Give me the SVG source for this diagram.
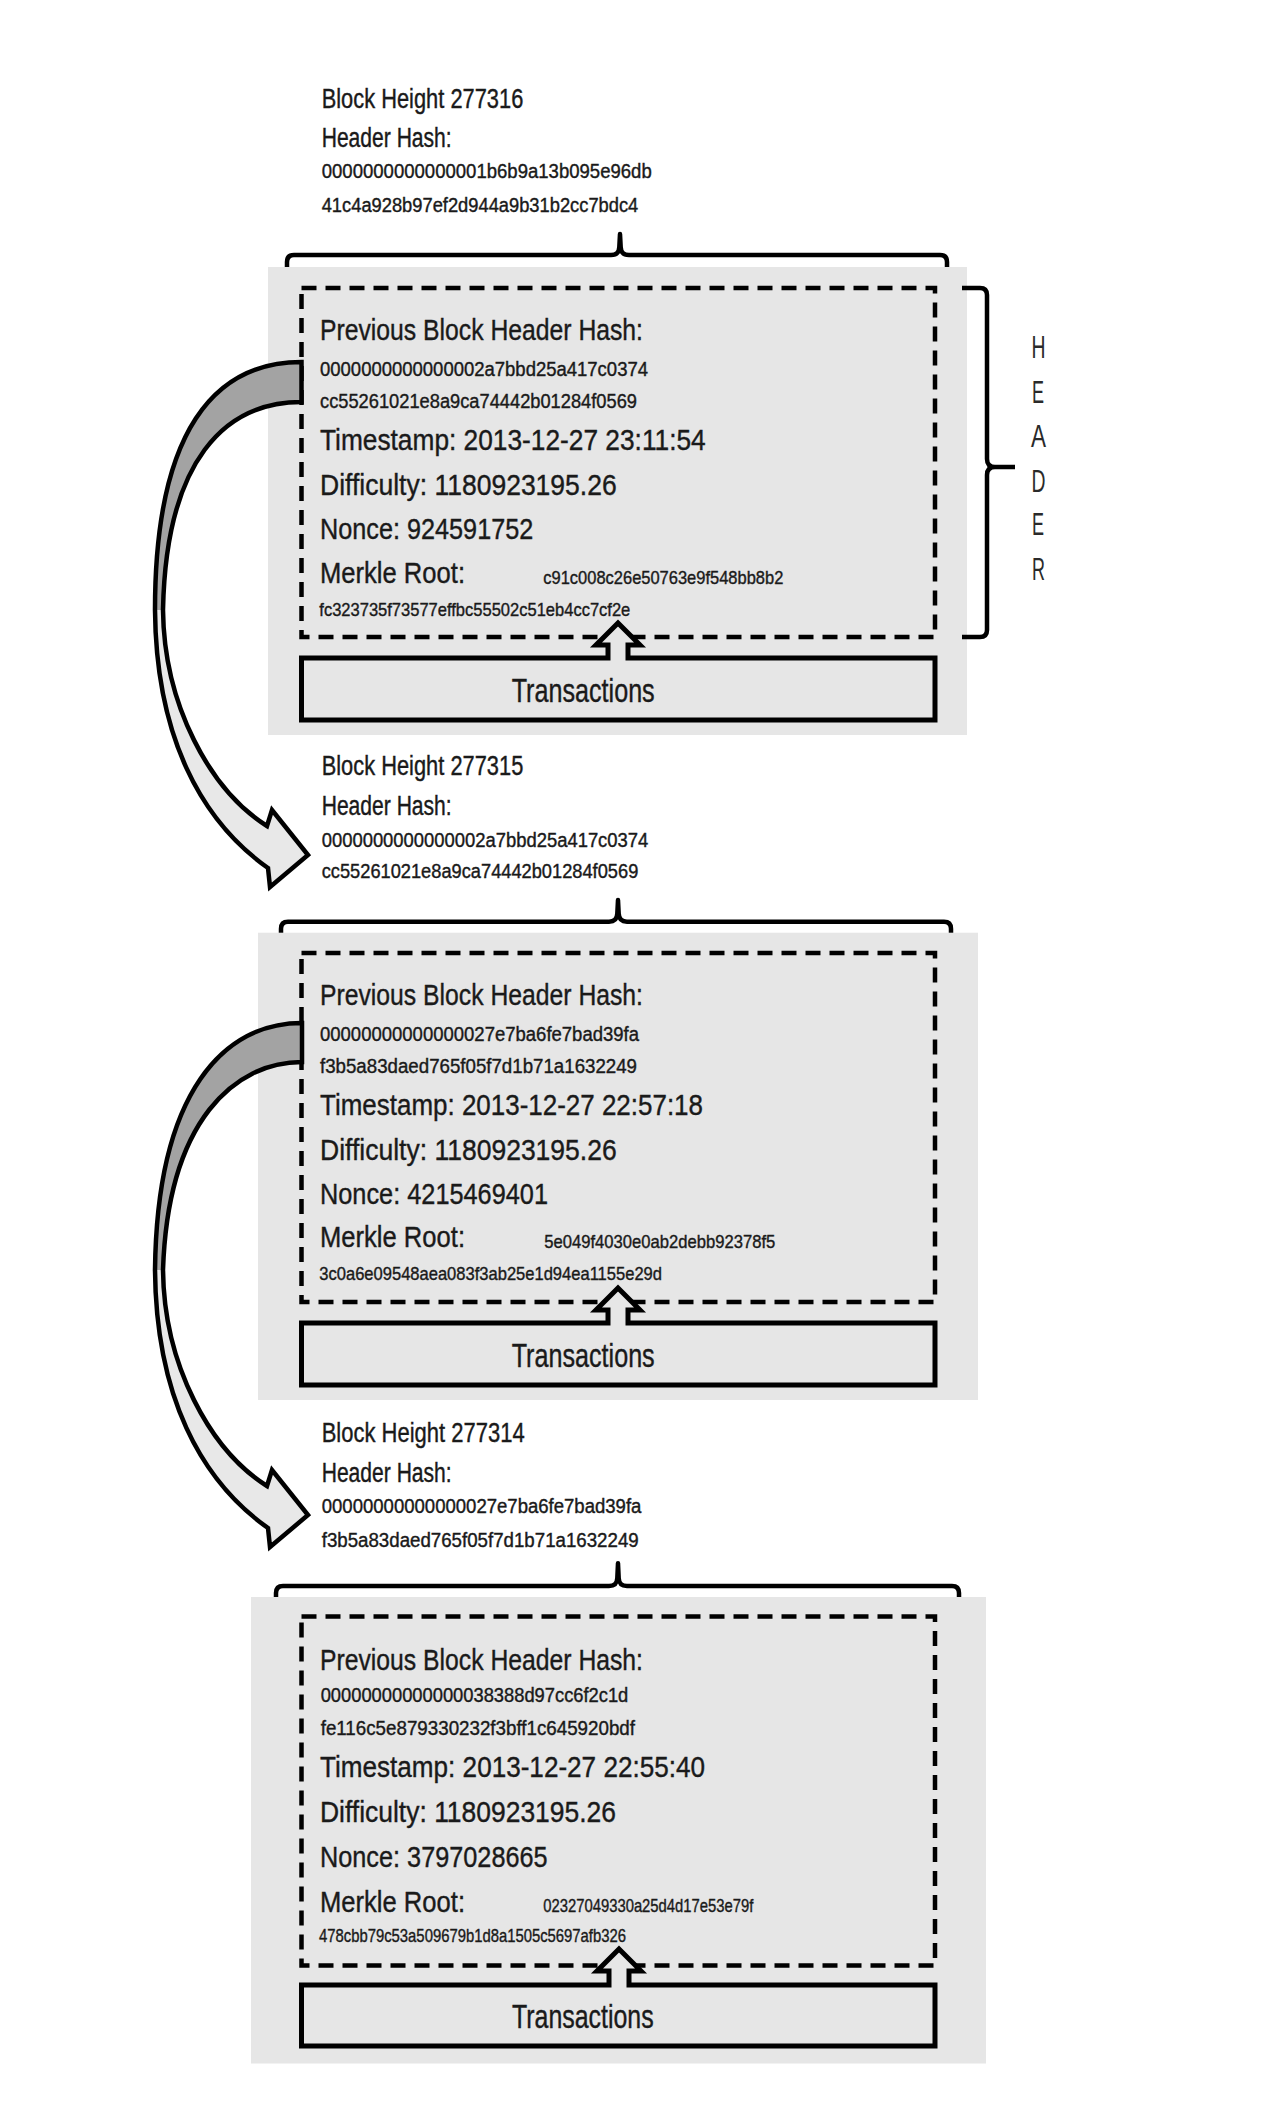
<svg xmlns="http://www.w3.org/2000/svg" width="1262" height="2116" viewBox="0 0 1262 2116">
<style>
.bg{fill:#e6e6e6}
.dash{fill:none;stroke:#000;stroke-width:4.5;stroke-dasharray:15 9}
.brace{fill:none;stroke:#000;stroke-width:4.5;stroke-linejoin:round;stroke-linecap:butt}
.tbox{fill:#e6e6e6;stroke:#000;stroke-width:5;stroke-linejoin:miter}
.rib{fill:none;stroke:#000;stroke-width:4.5;stroke-linejoin:miter}
.dark{fill:#a3a3a3}
.light{fill:#e8e8e8}
text{font-family:"Liberation Sans",Arial,sans-serif;fill:#1a1a1a;stroke:#1a1a1a;stroke-width:0.4}
.hd{font-size:27px}
.hs{font-size:20px}
.lb{font-size:30px}
.mk{font-size:19px}
.tx{font-size:33px}
.hl{font-size:32px;fill:#2a2a2a;stroke:none}
</style>
<rect width="1262" height="2116" fill="#fff"/>

<g id="block1">
<text class="hd" x="321.7" y="108.3" textLength="201.6" lengthAdjust="spacingAndGlyphs">Block Height 277316</text>
<text class="hd" x="321.7" y="146.7" textLength="130" lengthAdjust="spacingAndGlyphs">Header Hash:</text>
<text class="hs" x="321.7" y="178.3" textLength="330" lengthAdjust="spacingAndGlyphs">0000000000000001b6b9a13b095e96db</text>
<text class="hs" x="321.7" y="211.7" textLength="316.6" lengthAdjust="spacingAndGlyphs">41c4a928b97ef2d944a9b31b2cc7bdc4</text>
<path class="brace" d="M287,276 V262 Q287,255 294,255 H611 Q619,255 619.3,247 L620,234 L620.7,247 Q621,255 629,255 H940 Q947,255 947,262 V276"/>
<rect class="bg" x="268" y="267" width="699" height="468"/>
<rect class="dash" x="301.5" y="288" width="633.5" height="349"/>
<text class="lb" x="320" y="340" textLength="323" lengthAdjust="spacingAndGlyphs">Previous Block Header Hash:</text>
<text class="hs" x="320" y="375.7" textLength="328" lengthAdjust="spacingAndGlyphs">0000000000000002a7bbd25a417c0374</text>
<text class="hs" x="320" y="408.3" textLength="317" lengthAdjust="spacingAndGlyphs">cc55261021e8a9ca74442b01284f0569</text>
<text class="lb" x="320" y="450" textLength="385.7" lengthAdjust="spacingAndGlyphs">Timestamp: 2013-12-27 23:11:54</text>
<text class="lb" x="320" y="495" textLength="296.7" lengthAdjust="spacingAndGlyphs">Difficulty: 1180923195.26</text>
<text class="lb" x="320" y="539.3" textLength="213.3" lengthAdjust="spacingAndGlyphs">Nonce: 924591752</text>
<text class="lb" x="320" y="583.3" textLength="145" lengthAdjust="spacingAndGlyphs">Merkle Root:</text>
<text class="mk" x="543.3" y="584" textLength="240" lengthAdjust="spacingAndGlyphs">c91c008c26e50763e9f548bb8b2</text>
<text class="mk" x="319.3" y="616" textLength="311" lengthAdjust="spacingAndGlyphs">fc323735f73577effbc55502c51eb4cc7cf2e</text>
<path class="tbox" d="M608,658 H301.5 V720 H935 V658 H628 V645 H640 L618,623 L596,645 H608 Z"/>
<text class="tx" x="511.7" y="701.7" textLength="143" lengthAdjust="spacingAndGlyphs">Transactions</text>
</g>

<g id="header-brace">
<path class="brace" d="M962,288 H980 Q987,288 987,295 V459 Q987,467 995,467 H1015 M995,467 Q987,467 987,475 V630 Q987,637 980,637 H962"/>
<text class="hl" x="1031.5" y="358.3" textLength="14" lengthAdjust="spacingAndGlyphs">H</text>
<text class="hl" x="1032" y="402.7" textLength="12" lengthAdjust="spacingAndGlyphs">E</text>
<text class="hl" x="1031" y="446.7" textLength="15" lengthAdjust="spacingAndGlyphs">A</text>
<text class="hl" x="1031.5" y="491.7" textLength="14" lengthAdjust="spacingAndGlyphs">D</text>
<text class="hl" x="1032" y="535" textLength="12" lengthAdjust="spacingAndGlyphs">E</text>
<text class="hl" x="1032" y="580" textLength="13" lengthAdjust="spacingAndGlyphs">R</text>
</g>

<g id="block2">
<text class="hd" x="321.7" y="775" textLength="201.6" lengthAdjust="spacingAndGlyphs">Block Height 277315</text>
<text class="hd" x="321.7" y="815" textLength="130" lengthAdjust="spacingAndGlyphs">Header Hash:</text>
<text class="hs" x="321.7" y="846.7" textLength="326.6" lengthAdjust="spacingAndGlyphs">0000000000000002a7bbd25a417c0374</text>
<text class="hs" x="321.7" y="878.3" textLength="316.6" lengthAdjust="spacingAndGlyphs">cc55261021e8a9ca74442b01284f0569</text>
<path class="brace" d="M281,940 V928.7 Q281,921.7 288,921.7 H609 Q617,921.7 617.3,913.7 L618,900 L618.7,913.7 Q619,921.7 627,921.7 H944 Q951,921.7 951,928.7 V940"/>
<rect class="bg" x="258" y="932.7" width="720" height="467.3"/>
<rect class="dash" x="301.5" y="953" width="633.5" height="349"/>
<text class="lb" x="320" y="1005" textLength="323" lengthAdjust="spacingAndGlyphs">Previous Block Header Hash:</text>
<text class="hs" x="320" y="1040.7" textLength="319" lengthAdjust="spacingAndGlyphs">00000000000000027e7ba6fe7bad39fa</text>
<text class="hs" x="320" y="1072.5" textLength="317" lengthAdjust="spacingAndGlyphs">f3b5a83daed765f05f7d1b71a1632249</text>
<text class="lb" x="320" y="1115" textLength="383" lengthAdjust="spacingAndGlyphs">Timestamp: 2013-12-27 22:57:18</text>
<text class="lb" x="320" y="1160" textLength="296.7" lengthAdjust="spacingAndGlyphs">Difficulty: 1180923195.26</text>
<text class="lb" x="320" y="1204.3" textLength="228" lengthAdjust="spacingAndGlyphs">Nonce: 4215469401</text>
<text class="lb" x="320" y="1247" textLength="145" lengthAdjust="spacingAndGlyphs">Merkle Root:</text>
<text class="mk" x="544.3" y="1247.5" textLength="231" lengthAdjust="spacingAndGlyphs">5e049f4030e0ab2debb92378f5</text>
<text class="mk" x="319.3" y="1280" textLength="342.7" lengthAdjust="spacingAndGlyphs">3c0a6e09548aea083f3ab25e1d94ea1155e29d</text>
<path class="tbox" d="M608,1323 H301.5 V1385 H935 V1323 H628 V1310 H640 L618,1288 L596,1310 H608 Z"/>
<text class="tx" x="511.7" y="1366.7" textLength="143" lengthAdjust="spacingAndGlyphs">Transactions</text>
</g>

<g id="block3">
<text class="hd" x="321.7" y="1441.7" textLength="203" lengthAdjust="spacingAndGlyphs">Block Height 277314</text>
<text class="hd" x="321.7" y="1481.7" textLength="130" lengthAdjust="spacingAndGlyphs">Header Hash:</text>
<text class="hs" x="321.7" y="1513.3" textLength="319.7" lengthAdjust="spacingAndGlyphs">00000000000000027e7ba6fe7bad39fa</text>
<text class="hs" x="321.7" y="1546.7" textLength="317" lengthAdjust="spacingAndGlyphs">f3b5a83daed765f05f7d1b71a1632249</text>
<path class="brace" d="M276,1605 V1593 Q276,1586 283,1586 H609 Q617,1586 617.3,1578 L618,1563.3 L618.7,1578 Q619,1586 627,1586 H952 Q959,1586 959,1593 V1605"/>
<rect class="bg" x="251" y="1597" width="735" height="466.5"/>
<rect class="dash" x="301.5" y="1616.5" width="633.5" height="349"/>
<text class="lb" x="320" y="1670" textLength="323" lengthAdjust="spacingAndGlyphs">Previous Block Header Hash:</text>
<text class="hs" x="320.7" y="1701.7" textLength="307.6" lengthAdjust="spacingAndGlyphs">00000000000000038388d97cc6f2c1d</text>
<text class="hs" x="320.7" y="1735" textLength="314.3" lengthAdjust="spacingAndGlyphs">fe116c5e879330232f3bff1c645920bdf</text>
<text class="lb" x="320" y="1776.7" textLength="385" lengthAdjust="spacingAndGlyphs">Timestamp: 2013-12-27 22:55:40</text>
<text class="lb" x="320" y="1821.7" textLength="296" lengthAdjust="spacingAndGlyphs">Difficulty: 1180923195.26</text>
<text class="lb" x="320" y="1866.7" textLength="227.6" lengthAdjust="spacingAndGlyphs">Nonce: 3797028665</text>
<text class="lb" x="320" y="1911.7" textLength="145" lengthAdjust="spacingAndGlyphs">Merkle Root:</text>
<text class="mk" x="543.3" y="1912" textLength="210" lengthAdjust="spacingAndGlyphs">02327049330a25d4d17e53e79f</text>
<text class="mk" x="319" y="1941.7" textLength="307" lengthAdjust="spacingAndGlyphs">478cbb79c53a509679b1d8a1505c5697afb326</text>
<path class="tbox" d="M609,1985 H301.5 V2046 H935 V1985 H629 V1971 H641 L619,1949 L597,1971 H609 Z"/>
<text class="tx" x="512" y="2027.7" textLength="141.6" lengthAdjust="spacingAndGlyphs">Transactions</text>
</g>

<g id="connectors">
<g id="link-277316-277315">
<path class="dark" d="M301.5,362 C215,362 155,430 155,610 L163,610 C166,460 225,402 301.5,402 Z"/>
<path class="light" d="M155,610 C156,735 200,820 268,868 L270,887 L308,855 L272,810 L267,826 C210,790 164,705 163,610 Z"/>
<path class="rib" d="M301.5,362 C215,362 155,430 155,610 C156,735 200,820 268,868 L270,887 L308,855 L272,810 L267,826 C210,790 164,705 163,610 C166,460 225,402 301.5,402 Z"/>
</g>
<g id="link-277315-277314">
<path class="dark" d="M302,1023 C225,1023 157,1090 155,1270 L163,1270 C168,1120 235,1062 302,1062 Z"/>
<path class="light" d="M155,1270 C156,1395 200,1480 268,1528 L270,1547 L308,1515 L272,1470 L267,1486 C210,1450 164,1365 163,1270 Z"/>
<path class="rib" d="M302,1023 C225,1023 157,1090 155,1270 C156,1395 200,1480 268,1528 L270,1547 L308,1515 L272,1470 L267,1486 C210,1450 164,1365 163,1270 C168,1120 235,1062 302,1062 Z"/>
</g>
</g>
</svg>
